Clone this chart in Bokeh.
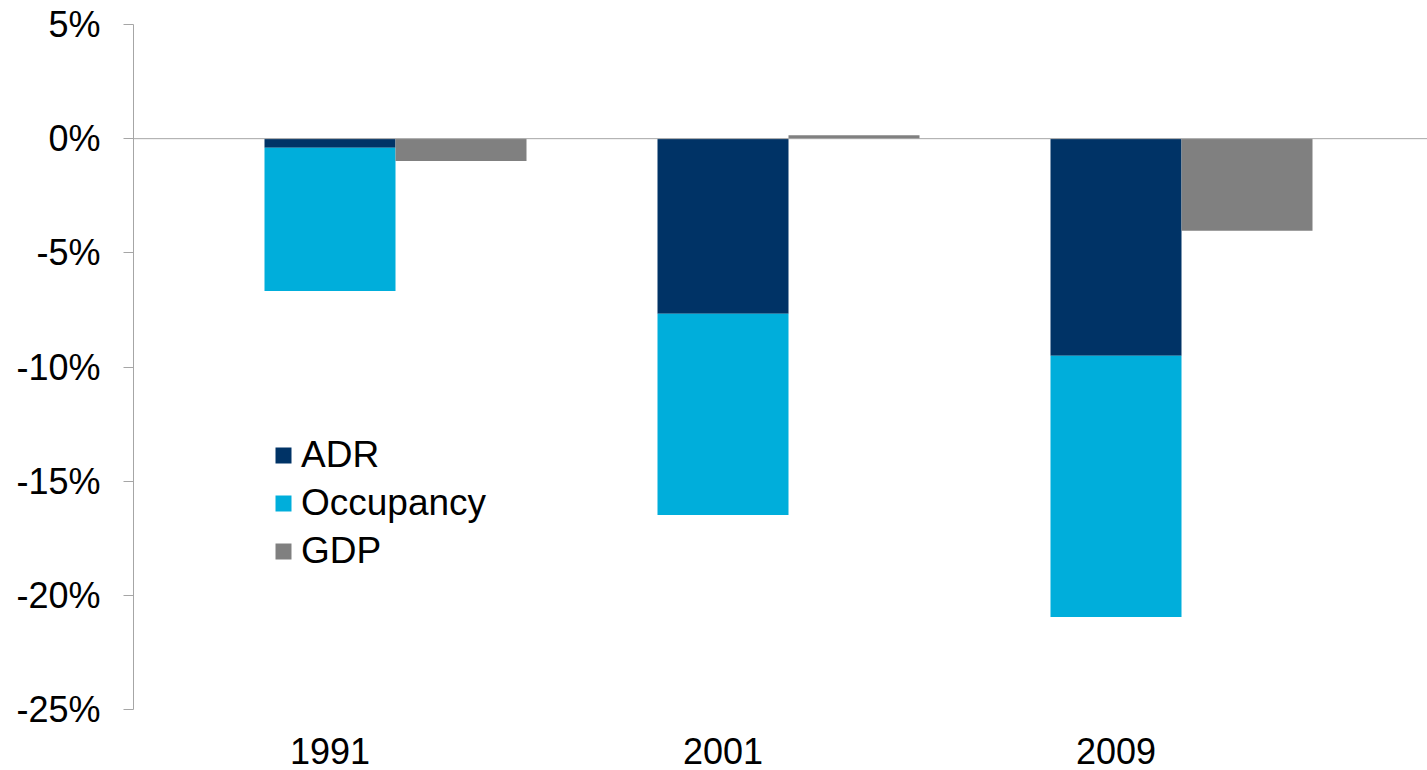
import numpy as np
from bokeh.plotting import figure
from bokeh.models import (Range1d, FixedTicker, PrintfTickFormatter, LinearAxis,
                          Span, Legend, LegendItem, ColumnDataSource)
from bokeh.embed import file_html
from bokeh.resources import INLINE

years = ["1991", "2001", "2009"]
adr = [-0.4, -7.67, -9.51]
occupancy = [-6.27, -8.81, -11.44]
gdp = [-0.98, 0.15, -4.03]
y_ticks = [-25, -20, -15, -10, -5, 0, 5]

colors = {"ADR": "#003366", "Occupancy": "#00AEDB", "GDP": "#808080"}
FONT = "Liberation Sans"
FS = "36px"

centers = np.arange(len(years)) + 0.5
slot = 1.0 / 3.0
adr_arr = np.array(adr)
occ_arr = np.array(occupancy)

src = ColumnDataSource(dict(
    x=centers,
    xg=centers + slot,
    adr_top=np.zeros(len(years)),
    adr_bot=adr_arr,
    occ_top=adr_arr,
    occ_bot=adr_arr + occ_arr,
    gdp=np.array(gdp),
    zero=np.zeros(len(years)),
))

p = figure(width=1427, height=770, output_backend="svg", toolbar_location=None,
           x_range=Range1d(0, 1294 / 393.0), y_range=Range1d(-25, 5),
           min_border_left=133, min_border_right=0, min_border_top=24,
           min_border_bottom=61, x_axis_type=None, y_axis_type=None)
p.outline_line_color = None
p.xgrid.visible = False
p.ygrid.visible = False

r_adr = p.vbar(x="x", width=slot, top="adr_top", bottom="adr_bot", source=src,
               fill_color=colors["ADR"], line_color=None)
r_occ = p.vbar(x="x", width=slot, top="occ_top", bottom="occ_bot", source=src,
               fill_color=colors["Occupancy"], line_color=None)
r_gdp = p.vbar(x="xg", width=slot, top="gdp", bottom="zero", source=src,
               fill_color=colors["GDP"], line_color=None)

p.add_layout(Span(location=0, dimension="width", line_color="#A6A6A6", line_width=1))

yaxis = LinearAxis(ticker=FixedTicker(ticks=y_ticks),
                   formatter=PrintfTickFormatter(format="%d%%"))
yaxis.axis_line_color = "#A6A6A6"
yaxis.major_tick_line_color = "#A6A6A6"
yaxis.major_tick_out = 10
yaxis.major_tick_in = 0
yaxis.minor_tick_line_color = None
yaxis.major_label_standoff = 23
yaxis.major_label_text_font = FONT
yaxis.major_label_text_font_size = FS
yaxis.major_label_text_color = "#000000"
p.add_layout(yaxis, "left")

xaxis = LinearAxis(ticker=FixedTicker(ticks=list(centers)))
xaxis.major_label_overrides = {float(c): y for c, y in zip(centers, years)}
xaxis.axis_line_color = None
xaxis.major_tick_line_color = None
xaxis.minor_tick_line_color = None
xaxis.major_label_standoff = 22
xaxis.major_label_text_font = FONT
xaxis.major_label_text_font_size = FS
xaxis.major_label_text_color = "#000000"
p.add_layout(xaxis, "below")

legend = Legend(items=[LegendItem(label="ADR", renderers=[r_adr]),
                       LegendItem(label="Occupancy", renderers=[r_occ]),
                       LegendItem(label="GDP", renderers=[r_gdp])],
                location=(140, 134), padding=0, margin=0, spacing=0,
                glyph_width=20, glyph_height=20, label_height=48,
                label_standoff=8, border_line_color=None,
                background_fill_alpha=0,
                label_text_font=FONT, label_text_font_size="37px",
                label_text_color="#000000")
p.add_layout(legend, "center")

open("out.html", "w").write(file_html(p, INLINE))
